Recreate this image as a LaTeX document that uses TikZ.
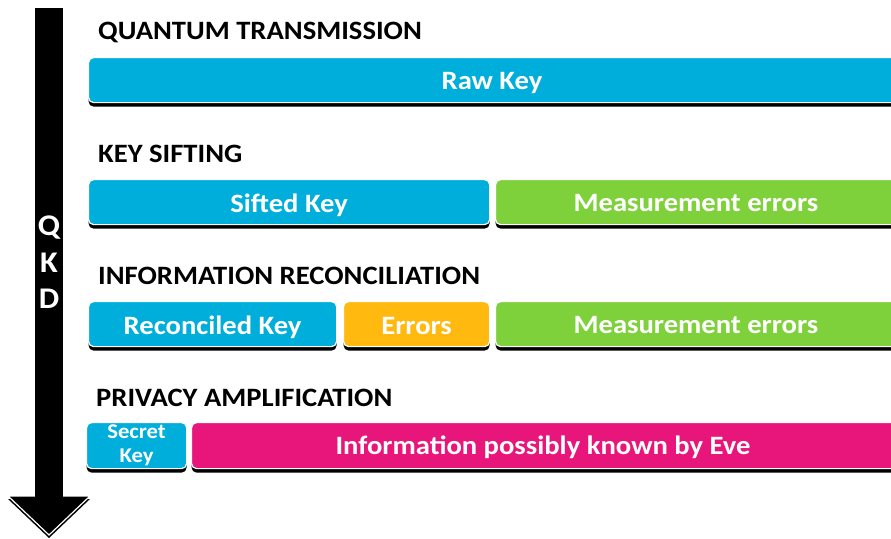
\documentclass[tikz,border=0pt]{standalone}
\usepackage{fontspec}
\setmainfont{Carlito}[FakeStretch=1.08]
\usetikzlibrary{shadows}
\definecolor{keyblue}{RGB}{0,174,219}
\definecolor{errgreen}{RGB}{127,209,59}
\definecolor{erramber}{RGB}{255,185,15}
\definecolor{evepink}{RGB}{232,22,123}
\newcommand{\bigbold}{\bfseries\fontsize{26.5}{30}\selectfont}
\tikzset{
  stagetitle/.style={anchor=base west, font=\bigbold, inner sep=0pt},
  boxtext/.style={anchor=base, text=white, font=\bigbold, inner sep=0pt},
  qkdletter/.style={anchor=base, text=white, font=\bfseries\fontsize{30}{34}\selectfont, inner sep=0pt},
  keybox/.style={anchor=north west, rounded corners=5pt, draw=white, line width=1.2pt,
    text=white, font=\bigbold, inner sep=0pt, minimum height=45pt,
    text height=22pt, text depth=2pt,
    drop shadow={shadow xshift=0pt, shadow yshift=-4pt, fill=black, opacity=1}},
}
\begin{document}
\begin{tikzpicture}[x=1pt, y=-1pt]
    \useasboundingbox (0,0) rectangle (891,538);
    \clip (0,0) rectangle (891,538);

    % QKD arrow
    \fill[black] (35,8) rectangle (63,498);
    \fill[black] (8,499) -- (49,538) -- (90,499) -- cycle;
    \filldraw[black, draw=white, line width=1.2pt] (8,496) -- (49,535) -- (90,496) -- cycle;
    \fill[black] (35,490) rectangle (63,502);
    \node[qkdletter] (q) at (49,235) {Q};
    \node[qkdletter] (k) at (49,272) {K};
    \node[qkdletter] (d) at (49,308) {D};

    % quantum transmission
    \node[stagetitle] (t1) at (98,39) {QUANTUM TRANSMISSION};
    \node[keybox, fill=keyblue, minimum width=830pt] (raw) at (88,57) {};
    \node[boxtext] (rawtxt) at (492,89) {Raw Key};

    % key sifting
    \node[stagetitle] (t2) at (98,162) {KEY SIFTING};
    \node[keybox, fill=keyblue, minimum width=401pt] (sifted) at (88,179) {Sifted Key};
    \node[keybox, fill=errgreen, minimum width=420pt] (meas1) at (495,179) {};
    \node[boxtext] (meas1txt) at (696,211) {Measurement errors};

    % information reconciliation
    \node[stagetitle] (t3) at (98,284) {INFORMATION RECONCILIATION};
    \node[keybox, fill=keyblue, minimum width=248pt] (recon) at (88,301) {Reconciled Key};
    \node[keybox, fill=erramber, minimum width=146pt] (errs) at (343,301) {Errors};
    \node[keybox, fill=errgreen, minimum width=420pt] (meas2) at (495,301) {};
    \node[boxtext] (meas2txt) at (696,333) {Measurement errors};

    % privacy amplification
    \node[stagetitle] (t4) at (96,406) {PRIVACY AMPLIFICATION};
    \node[keybox, fill=keyblue, minimum width=100pt, minimum height=46pt, align=center,
      text height=, text depth=, font=\bfseries\fontsize{21}{24}\selectfont] (secret) at (86,422) {Secret\\Key};
    \node[keybox, fill=evepink, minimum width=720pt, minimum height=46pt] (eve) at (191,422) {};
    \node[boxtext] (evetxt) at (543,454) {Information possibly known by Eve};
\end{tikzpicture}
\end{document}
